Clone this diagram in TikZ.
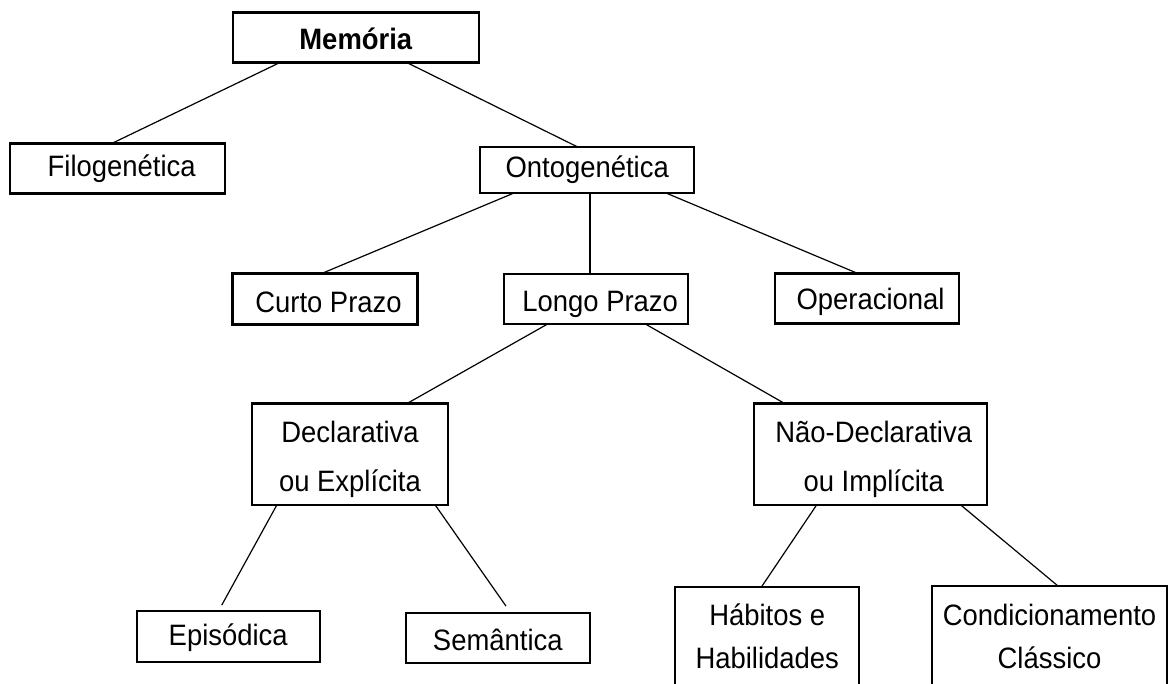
\documentclass[tikz,border=0pt]{standalone}
\usepackage{fontspec}
\setmainfont{Liberation Sans}[FakeStretch=0.93]
\begin{document}
\begin{tikzpicture}[x=1pt,y=-1pt,
  box/.style={draw, line width=2.4pt, rectangle, inner sep=0pt, outer sep=0pt,
    font=\fontsize{29.5}{35}\selectfont, text height=#1, text depth=0pt},
  box/.default=24pt,
  twobox/.style={draw, line width=2.4pt, rectangle, inner sep=0pt, outer sep=0pt,
    text height=0pt, text depth=#1},
  conn/.style={line width=1.2pt}]
\clip (0,0) rectangle (1170,684);
\fill[white] (0,0) rectangle (1170,684);

\node[box=25pt, minimum width=246pt, minimum height=50pt, font=\fontsize{29.5}{35}\selectfont\bfseries] (mem) at (355.8,37.5) {Memória};
\node[box=16.4pt, minimum width=215pt, minimum height=50pt] (filo) at (117.7,168.5) {\hspace*{8pt}Filogenética};
\node[box=14.8pt, minimum width=214pt, minimum height=46pt] (onto) at (587.2,170.3) {Ontogenética};
\node[box=27.4pt, minimum width=185pt, minimum height=51pt] (curto) at (325,299) {\hspace*{7pt}Curto Prazo};
\node[box=25.8pt, minimum width=184pt, minimum height=50pt] (longo) at (596.2,298.8) {\hspace*{8pt}Longo Prazo};
\node[box=22.6pt, minimum width=184pt, minimum height=50pt] (oper) at (867,298.7) {\hspace*{7pt}Operacional};

\node[twobox=23.8pt, minimum width=196pt, minimum height=101pt, font=\fontsize{29.5}{49.4}\selectfont] (decl) at (350,454.2)
  {\begin{tabular}[t]{@{}c@{}}Declarativa\\ou Explícita\end{tabular}};
\node[twobox=23.8pt, minimum width=233pt, minimum height=101pt, font=\fontsize{29.5}{49.4}\selectfont] (nao) at (870.2,454.2)
  {\begin{tabular}[t]{@{}c@{}}\hspace*{7pt}Não-Declarativa\\\hspace*{7pt}ou Implícita\end{tabular}};

\node[box=16.6pt, minimum width=183pt, minimum height=51pt] (epis) at (228.2,636.7) {Episódica};
\node[box=24.4pt, minimum width=184pt, minimum height=50pt] (sem) at (497.8,637.8) {Semântica};

\node[twobox=25pt, minimum width=184pt, minimum height=101pt, font=\fontsize{29.5}{43}\selectfont] (hab) at (767.2,637.5)
  {\begin{tabular}[t]{@{}c@{}}Hábitos e\\Habilidades\end{tabular}};
\node[twobox=23pt, minimum width=235pt, minimum height=101pt, font=\fontsize{29.5}{43}\selectfont] (cond) at (1049.5,636.5)
  {\begin{tabular}[t]{@{}c@{}}Condicionamento\\Clássico\end{tabular}};

\draw[conn] ([xshift=-75.8pt]mem.south) -- ([xshift=-6pt]filo.north);
\draw[conn] ([xshift=50.9pt]mem.south) -- ([xshift=-8.9pt]onto.north);
\draw[conn] ([xshift=-73.9pt]onto.south) -- ([xshift=-3.3pt]curto.north);
\draw[conn] ([xshift=2.8pt]onto.south) -- ([xshift=-6.2pt]longo.north);
\draw[conn] ([xshift=79.5pt]onto.south) -- ([xshift=-8.7pt]oper.north);
\draw[conn] ([xshift=-48.2pt]longo.south) -- ([xshift=56.7pt]decl.north);
\draw[conn] ([xshift=48.8pt]longo.south) -- ([xshift=-85.2pt]nao.north);
\draw[conn] ([xshift=-73pt]decl.south) -- ([xshift=-6.5pt,yshift=6pt]epis.north);
\draw[conn] ([xshift=85pt]decl.south) -- ([xshift=8.2pt,yshift=6.7pt]sem.north);
\draw[conn] ([xshift=-53.4pt]nao.south) -- ([xshift=-5.8pt]hab.north);
\draw[conn] ([xshift=90.2pt]nao.south) -- ([xshift=8.5pt]cond.north);
\end{tikzpicture}
\end{document}
